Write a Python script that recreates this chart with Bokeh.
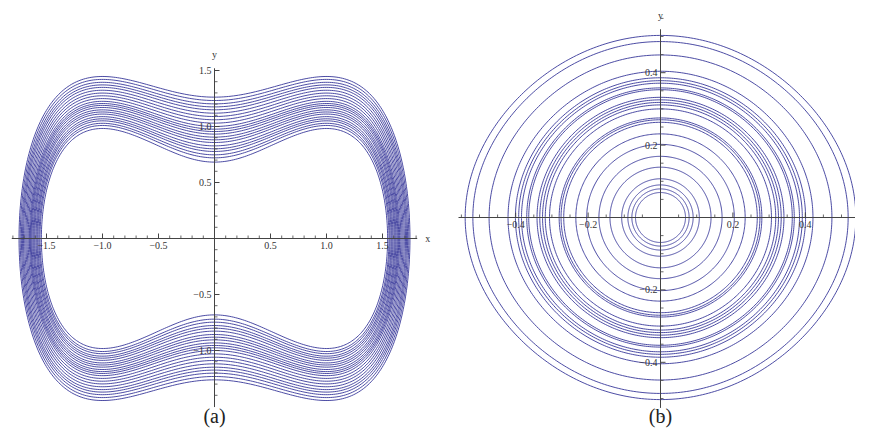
import numpy as np
from bokeh.plotting import figure
from bokeh.layouts import row
from bokeh.models import Range1d
from bokeh.core.properties import value
from bokeh.embed import file_html
from bokeh.resources import INLINE

# ---------------- data ----------------
# Panel (a): height y at x = 0 of each successive loop of the trajectory
loop_levels_a = [1.262, 1.232, 1.202, 1.175, 1.149, 1.119, 1.089, 1.060, 1.030,
                 1.000, 0.976, 0.955, 0.932, 0.905, 0.881, 0.857, 0.827, 0.801,
                 0.777, 0.747, 0.720, 0.682]
# Panel (b): height y at x = 0 of each successive near-circular loop
loop_levels_b = [0.503, 0.486, 0.449, 0.404, 0.386, 0.378, 0.371, 0.358, 0.353,
                 0.332, 0.325, 0.318, 0.311, 0.300, 0.275, 0.270, 0.263, 0.231,
                 0.202, 0.169, 0.139, 0.107, 0.090, 0.079, 0.069]

xticks_a = [-1.5, -1.0, -0.5, 0.5, 1.0, 1.5]
xtick_labels_a = ["\u22121.5", "\u22121.0", "\u22120.5", "0.5", "1.0", "1.5"]
yticks_a = [-1.0, -0.5, 0.5, 1.0, 1.5]
ytick_labels_a = ["\u22121.0", "\u22120.5", "0.5", "1.0", "1.5"]
xminor_a = [v for v in np.round(np.arange(-1.8, 1.81, 0.1), 2) if abs(v) > 1e-9 and abs(v * 2 - round(v * 2)) > 1e-6]
yminor_a = [v for v in np.round(np.arange(-1.4, 1.51, 0.1), 2) if abs(v) > 1e-9 and abs(v * 2 - round(v * 2)) > 1e-6]
xaxis_bounds_a = (-1.81, 1.81)
yaxis_bounds_a = (-1.505, 1.52)

ticks_b = [-0.4, -0.2, 0.2, 0.4]
tick_labels_b = ["\u22120.4", "\u22120.2", "0.2", "0.4"]
minor_b = [v for v in np.round(np.arange(-0.55, 0.551, 0.05), 2) if abs(v) > 1e-9 and abs(v * 5 - round(v * 5)) > 1e-6]
xaxis_bounds_b = (-0.558, 0.538)
yaxis_bounds_b = (-0.526, 0.52)

panel_labels = ["(a)", "(b)"]

CURVE = "#38389a"
AXIS = "#444444"
TEXT = "#333333"
SERIF = value("Liberation Serif")


def loop_a(y0, n=500):
    # closed level curve y^2 = y0^2 + x^2 - x^4/2 through (0, y0)
    xm = np.sqrt(1 + np.sqrt(1 + 2 * y0 ** 2))
    t = np.linspace(0, 2 * np.pi, n)
    x = xm * np.cos(t)
    y = np.sign(np.sin(t)) * np.sqrt(np.clip(y0 ** 2 + x ** 2 - x ** 4 / 2, 0, None))
    return x, y


def loop_b(b, k=0.45, n=400):
    # closed level curve y^2 = b^2 - x^2 + k x^4 through (0, b)
    a = np.sqrt((1 - np.sqrt(1 - 4 * k * b ** 2)) / (2 * k))
    t = np.linspace(0, 2 * np.pi, n)
    x = a * np.cos(t)
    y = np.sign(np.sin(t)) * np.sqrt(np.clip(b ** 2 - x ** 2 + k * x ** 4, 0, None))
    return x, y


def make_axes(p, xb, yb, xt, xtl, yt, ytl, xm, ym, major=5, minor=3):
    p.segment(x0=[xb[0], 0], y0=[0, yb[0]], x1=[xb[1], 0], y1=[0, yb[1]],
              line_color=AXIS, line_width=1)
    p.ray(x=xt, y=[0] * len(xt), length=major, angle=np.pi / 2,
          length_units="screen", line_color=AXIS, line_width=1)
    p.ray(x=xm, y=[0] * len(xm), length=minor, angle=np.pi / 2,
          length_units="screen", line_color=AXIS, line_width=0.8)
    p.ray(x=[0] * len(yt), y=yt, length=major, angle=0,
          length_units="screen", line_color=AXIS, line_width=1)
    p.ray(x=[0] * len(ym), y=ym, length=minor, angle=0,
          length_units="screen", line_color=AXIS, line_width=0.8)
    p.text(x=xt, y=[0] * len(xt), text=xtl, text_align="center", text_baseline="top",
           y_offset=3, text_font=SERIF, text_font_size="10px", text_color=TEXT)
    p.text(x=[0] * len(yt), y=yt, text=ytl, text_align="right", text_baseline="middle",
           x_offset=-3, text_font=SERIF, text_font_size="10px", text_color=TEXT)


def base_fig(w, h, ox, oy, scale):
    p = figure(width=w, height=h,
               x_range=Range1d(-ox / scale, (w - ox) / scale),
               y_range=Range1d(-(h - oy) / scale, oy / scale),
               output_backend="svg", toolbar_location=None, min_border=0,
               x_axis_location=None, y_axis_location=None, outline_line_color=None)
    p.grid.visible = False
    return p


H = 428
# ---------------- panel (a) ----------------
pa = base_fig(432, H, 214, 238, 112.0)
xs_a, ys_a = zip(*[loop_a(v) for v in loop_levels_a])
pa.multi_line(xs=[list(x) for x in xs_a], ys=[list(y) for y in ys_a],
              line_color=CURVE, line_width=0.9)
make_axes(pa, xaxis_bounds_a, yaxis_bounds_a, xticks_a, xtick_labels_a,
          yticks_a, ytick_labels_a, xminor_a, yminor_a)
pa.text(x=[xaxis_bounds_a[1]], y=[0], text=["x"], text_align="left", text_baseline="middle",
        x_offset=8, text_font=SERIF, text_font_size="10px", text_color=TEXT)
pa.text(x=[0], y=[yaxis_bounds_a[1]], text=["y"], text_align="center", text_baseline="middle",
        y_offset=-14, text_font=SERIF, text_font_size="10px", text_color=TEXT)
pa.text(x=[0], y=[yaxis_bounds_a[0]], text=[panel_labels[0]], text_align="center",
        text_baseline="middle", y_offset=9, text_font=SERIF, text_font_size="20px",
        text_color="#222222")

# ---------------- panel (b) ----------------
pb = base_fig(423, H, 228, 217, 362.0)
xs_b, ys_b = zip(*[loop_b(v) for v in loop_levels_b])
pb.multi_line(xs=[list(x) for x in xs_b], ys=[list(y) for y in ys_b],
              line_color=CURVE, line_width=0.9)
make_axes(pb, xaxis_bounds_b, yaxis_bounds_b, ticks_b, tick_labels_b,
          ticks_b, tick_labels_b, minor_b, minor_b)
pb.text(x=[0], y=[yaxis_bounds_b[1]], text=["y"], text_align="center", text_baseline="middle",
        y_offset=-14, text_font=SERIF, text_font_size="10px", text_color=TEXT)
pb.text(x=[0], y=[yaxis_bounds_b[0]], text=[panel_labels[1]], text_align="center",
        text_baseline="middle", y_offset=8, text_font=SERIF, text_font_size="20px",
        text_color="#222222")

layout = row(pa, pb)
open("out.html", "w").write(file_html(layout, INLINE))
